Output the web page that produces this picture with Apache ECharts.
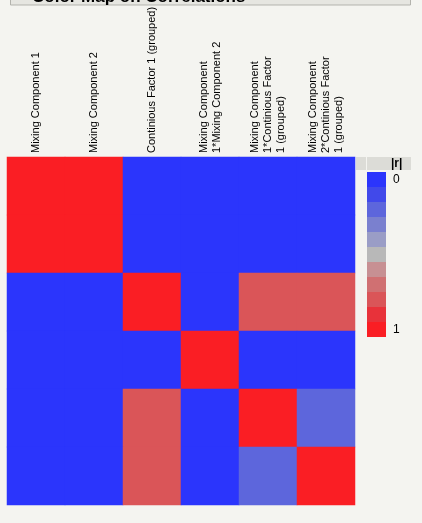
<!DOCTYPE html>
<html>
<head>
<meta charset="utf-8">
<script src="https://cdn.jsdelivr.net/npm/echarts@6/dist/echarts.min.js"></script>
<style>
html,body{margin:0;padding:0;background:#f4f4f0;}
#chart{width:422px;height:523px;}
</style>
</head>
<body>
<div id="chart"></div>
<script>
var titleText = 'Color Map on Correlations';
var legendTitle = '|r|';
var categories = [
  'Mixing Component 1',
  'Mixing Component 2',
  'Continious Factor 1 (grouped)',
  'Mixing Component\n1*Mixing Component 2',
  'Mixing Component\n1*Continious Factor\n1 (grouped)',
  'Mixing Component\n2*Continious Factor\n1 (grouped)'
];
// |r| matrix, row by row
var row1 = [1, 1, 0, 0, 0, 0];
var row2 = [1, 1, 0, 0, 0, 0];
var row3 = [0, 0, 1, 0, 0.8, 0.8];
var row4 = [0, 0, 0, 1, 0, 0];
var row5 = [0, 0, 0.8, 0, 1, 0.2];
var row6 = [0, 0, 0.8, 0, 0.2, 1];
var matrix = [row1, row2, row3, row4, row5, row6];
var legendSteps = [0, 0.1, 0.2, 0.3, 0.4, 0.5, 0.6, 0.7, 0.8, 0.9, 1];
var legendColors = ['#2b35fc', '#4149ea', '#5d66dc', '#7a80cf', '#9a9dc6', '#b8b8b8',
                    '#c79093', '#d07072', '#da5558', '#e8323a', '#fa1e24'];
var legendMinLabel = '0';
var legendMaxLabel = '1';

var data = [];
matrix.forEach(function (row, r) {
  row.forEach(function (v, c) { data.push([c, r, v]); });
});
var pieces = legendSteps.map(function (s, i) {
  var p = { gte: s - 0.05, color: legendColors[i] };
  if (i === legendSteps.length - 1) p.lte = s + 0.05; else p.lt = s + 0.05;
  return p;
});

var chart = echarts.init(document.getElementById('chart'));
chart.setOption({
  backgroundColor: '#f4f4f0',
  animation: false,
  textStyle: { fontFamily: 'Liberation Sans' },
  grid: { left: 7, top: 157, width: 348, height: 348 },
  xAxis: {
    type: 'category', position: 'top', data: categories,
    axisLine: { show: false }, axisTick: { show: false }, splitLine: { show: false },
    axisLabel: { rotate: -90, interval: 0, margin: 4, fontSize: 11, color: '#000',
                 fontFamily: 'Liberation Sans', lineHeight: 13 }
  },
  yAxis: {
    type: 'category', data: categories, inverse: true, show: false
  },
  visualMap: {
    type: 'piecewise', pieces: pieces, inverse: true, orient: 'vertical', align: 'left',
    left: 367, top: 172, itemWidth: 19, itemHeight: 15, itemGap: 0, itemSymbol: 'rect',
    textGap: 7, selectedMode: false, hoverLink: false, padding: 0,
    formatter: function (a, b) {
      if (b !== undefined && b <= 0.05) return legendMinLabel;
      if (a >= 0.95) return legendMaxLabel;
      return '';
    },
    textStyle: { fontSize: 12, color: '#000', fontFamily: 'Liberation Sans' }
  },
  series: [{
    type: 'heatmap', data: data, itemStyle: { borderWidth: 0 }, emphasis: { disabled: true }
  }],
  graphic: [
    { type: 'rect', shape: { x: 10.5, y: -20, width: 400, height: 25 },
      style: { fill: '#e6e6e1', stroke: '#b3b3ad', lineWidth: 1 } },
    { type: 'text', x: 32, y: 6,
      style: { text: titleText, font: 'bold 17px "Liberation Sans"', fill: '#000', verticalAlign: 'bottom' } },
    { type: 'rect', shape: { x: 356, y: 157, width: 10, height: 13 }, style: { fill: '#dcdcd7' } },
    { type: 'rect', shape: { x: 367, y: 157, width: 44, height: 13 }, style: { fill: '#dcdcd7' } },
    { type: 'text', x: 391, y: 164,
      style: { text: legendTitle, font: 'bold 12px "Liberation Sans"', fill: '#000', verticalAlign: 'middle' } }
  ]
});
</script>
</body>
</html>
